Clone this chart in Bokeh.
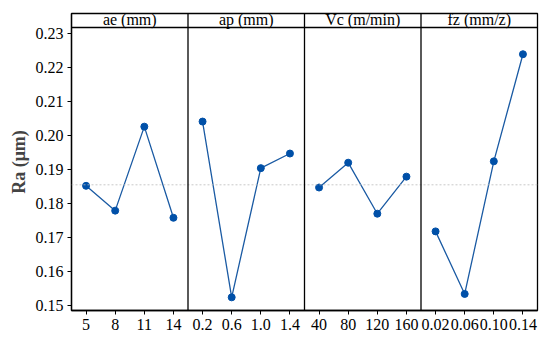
from bokeh.plotting import figure
from bokeh.models import FixedTicker, Span, Range1d, ColumnDataSource, Label
from bokeh.embed import file_html
from bokeh.resources import INLINE

factors = ["ae (mm)", "ap (mm)", "Vc (m/min)", "fz (mm/z)"]
ae_levels = ["5", "8", "11", "14"]
ae_ra = [0.1852, 0.1779, 0.2026, 0.1758]
ap_levels = ["0.2", "0.6", "1.0", "1.4"]
ap_ra = [0.2041, 0.1524, 0.1904, 0.1947]
vc_levels = ["40", "80", "120", "160"]
vc_ra = [0.1847, 0.1920, 0.1770, 0.1879]
fz_levels = ["0.02", "0.06", "0.10", "0.14"]
fz_ra = [0.1718, 0.1534, 0.1924, 0.2239]
mean_ra = 0.1855
y_ticks = [0.15, 0.16, 0.17, 0.18, 0.19, 0.20, 0.21, 0.22, 0.23]

levels = [ae_levels, ap_levels, vc_levels, fz_levels]
series = [ae_ra, ap_ra, vc_ra, fz_ra]

FONT = "serif"
y_bottom, y_header, y_top = 0.14853, 0.23176, 0.23588

p = figure(width=548, height=337, output_backend="svg", toolbar_location=None,
           x_range=Range1d(-0.5, 15.5), y_range=Range1d(y_bottom, y_top),
           min_border_left=71, min_border_right=11, min_border_top=13, min_border_bottom=27)
p.xgrid.visible = False
p.ygrid.visible = False
p.outline_line_color = "black"
p.outline_line_width = 1.3
p.background_fill_color = "white"
p.border_fill_color = "white"

ticks = list(range(16))
overrides = {}
for i, lv in enumerate(levels):
    for j, lab in enumerate(lv):
        overrides[i * 4 + j] = lab
p.xaxis.ticker = FixedTicker(ticks=ticks)
p.xaxis.major_label_overrides = overrides
p.xaxis.major_label_standoff = 4
p.yaxis.ticker = FixedTicker(ticks=y_ticks)
p.yaxis.major_label_overrides = {t: f"{t:.2f}" for t in y_ticks}
p.yaxis.major_label_standoff = 4
for ax in (p.xaxis, p.yaxis):
    ax.major_label_text_font = FONT
    ax.major_label_text_font_size = "16px"
    ax.major_label_text_color = "black"
    ax.axis_line_color = "black"
    ax.axis_line_width = 1.3
    ax.major_tick_line_color = "black"
    ax.major_tick_in = 0
    ax.major_tick_out = 4
    ax.minor_tick_line_color = None
p.yaxis.axis_label = "Ra (μm)"
p.yaxis.axis_label_text_font = FONT
p.yaxis.axis_label_text_font_style = "bold"
p.yaxis.axis_label_text_font_size = "18px"
p.yaxis.axis_label_standoff = 4

# mean line
p.add_layout(Span(location=mean_ra, dimension="width", line_color="#bbbbbb",
                  line_width=0.8, line_dash="2 2"))
# panel separators
for i in range(1, 4):
    p.add_layout(Span(location=i * 4 - 0.5, dimension="height", line_color="black", line_width=1.3))
# header bottom line
p.add_layout(Span(location=y_header, dimension="width", line_color="black", line_width=1.3))

for i, vals in enumerate(series):
    xs = [i * 4 + j for j in range(4)]
    src = ColumnDataSource(dict(x=xs, y=vals))
    p.line("x", "y", source=src, line_color="#1a5aa3", line_width=1.3)
    p.scatter("x", "y", source=src, size=7, fill_color="#0050a8", line_color="#0050a8")

for i, name in enumerate(factors):
    p.add_layout(Label(x=i * 4 + 1.5, y=y_header, y_offset=0, text=name,
                       text_font=FONT, text_font_size="16px", text_align="center",
                       text_baseline="bottom", text_color="black"))

open("out.html", "w").write(file_html(p, INLINE))
